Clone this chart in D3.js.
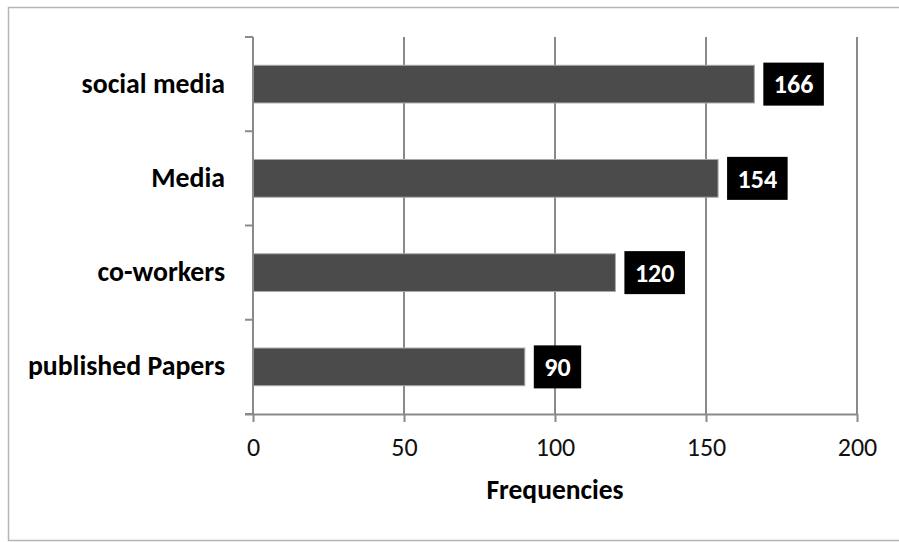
<!DOCTYPE html>
<html>
<head>
<meta charset="utf-8">
<script src="https://cdn.jsdelivr.net/npm/d3@7"></script>
<style>
  html, body { margin: 0; padding: 0; background: #fff; }
  svg { display: block; }
</style>
</head>
<body>
<svg id="chart" width="899" height="542"></svg>
<script>
// Sources of information, frequency of mention
const categories = ["social media", "Media", "co-workers", "published Papers"];
const frequencies = [166, 154, 120, 90];
const xTicks = [0, 50, 100, 150, 200];
const xTitle = "Frequencies";

const W = 899, H = 542;
const margin = { top: 37, left: 253, right: 42, bottom: 128 };
const plotW = W - margin.left - margin.right;
const plotH = H - margin.top - margin.bottom;
const FONT = "Carlito, Calibri, Lato, 'Open Sans', sans-serif";
const GRID = "#8a8a8a";

const svg = d3.select("#chart");

// outer chart frame
svg.append("rect")
  .attr("x", 8.5).attr("y", 7.5)
  .attr("width", W + 5).attr("height", H - 9)
  .attr("fill", "none").attr("stroke", "#b5b5b5").attr("stroke-width", 1.5);

const g = svg.append("g").attr("transform", `translate(${margin.left},${margin.top})`);

const x = d3.scaleLinear().domain([0, 200]).range([0, plotW]);
const y = d3.scaleBand().domain(categories).range([0, plotH]).paddingInner(0.6).paddingOuter(0.3);

// vertical gridlines
g.selectAll("line.grid")
  .data(xTicks.filter(t => t > 0))
  .join("line")
  .attr("class", "grid")
  .attr("x1", d => x(d)).attr("x2", d => x(d))
  .attr("y1", 0).attr("y2", plotH)
  .attr("stroke", GRID).attr("stroke-width", 2);

// bars
g.selectAll("rect.bar")
  .data(categories)
  .join("rect")
  .attr("class", "bar")
  .attr("x", 0)
  .attr("y", d => y(d))
  .attr("width", (d, i) => x(frequencies[i]))
  .attr("height", y.bandwidth())
  .attr("fill", "#4b4b4b")
  .attr("stroke", "#a8a8a8").attr("stroke-width", 1);

// x axis
const xAxis = g.append("g")
  .attr("transform", `translate(0,${plotH})`)
  .call(d3.axisBottom(x).tickValues(xTicks).tickSize(8).tickPadding(16).tickSizeOuter(0));
xAxis.select(".domain").attr("stroke", GRID).attr("stroke-width", 2)
  .attr("d", `M-8,0.5H${plotW}`);
xAxis.selectAll(".tick line").attr("stroke", GRID).attr("stroke-width", 2);
xAxis.selectAll(".tick text")
  .attr("font-family", FONT).attr("font-size", 26).attr("fill", "#111");

// y axis with ticks at category boundaries
const yAxis = g.append("g");
yAxis.append("line")
  .attr("x1", 0).attr("x2", 0).attr("y1", 0).attr("y2", plotH)
  .attr("stroke", GRID).attr("stroke-width", 2);
const bounds = d3.range(categories.length + 1).map(i => i * plotH / categories.length);
yAxis.selectAll("line.ytick")
  .data(bounds)
  .join("line")
  .attr("class", "ytick")
  .attr("x1", -8).attr("x2", 0)
  .attr("y1", d => d).attr("y2", d => d)
  .attr("stroke", GRID).attr("stroke-width", 2);

// category labels
g.selectAll("text.cat")
  .data(categories)
  .join("text")
  .attr("class", "cat")
  .attr("x", -28)
  .attr("y", d => y(d) + y.bandwidth() / 2)
  .attr("dy", "0.31em")
  .attr("text-anchor", "end")
  .attr("font-family", FONT).attr("font-weight", "bold").attr("font-size", 27.8)
  .attr("fill", "#000")
  .text(d => d);

// value labels in black boxes
const labels = g.selectAll("g.val")
  .data(categories)
  .join("g")
  .attr("class", "val");
labels.each(function(d, i) {
  const lg = d3.select(this);
  const t = lg.append("text")
    .attr("font-family", FONT).attr("font-weight", "bold").attr("font-size", 26)
    .attr("fill", "#fff")
    .attr("text-anchor", "middle")
    .attr("dy", "0.36em")
    .text(frequencies[i]);
  const tw = t.node().getComputedTextLength();
  const bw = tw + 21, bh = 43;
  const bx = x(frequencies[i]) + 9;
  const cy = y(d) + y.bandwidth() / 2;
  lg.insert("rect", "text")
    .attr("x", bx).attr("y", cy - bh / 2)
    .attr("width", bw).attr("height", bh)
    .attr("fill", "#000");
  t.attr("x", bx + bw / 2).attr("y", cy);
});

// axis title
g.append("text")
  .attr("x", plotW / 2)
  .attr("y", plotH + 85)
  .attr("text-anchor", "middle")
  .attr("font-family", FONT).attr("font-weight", "bold").attr("font-size", 27.5)
  .attr("fill", "#000")
  .text(xTitle);
</script>
</body>
</html>
